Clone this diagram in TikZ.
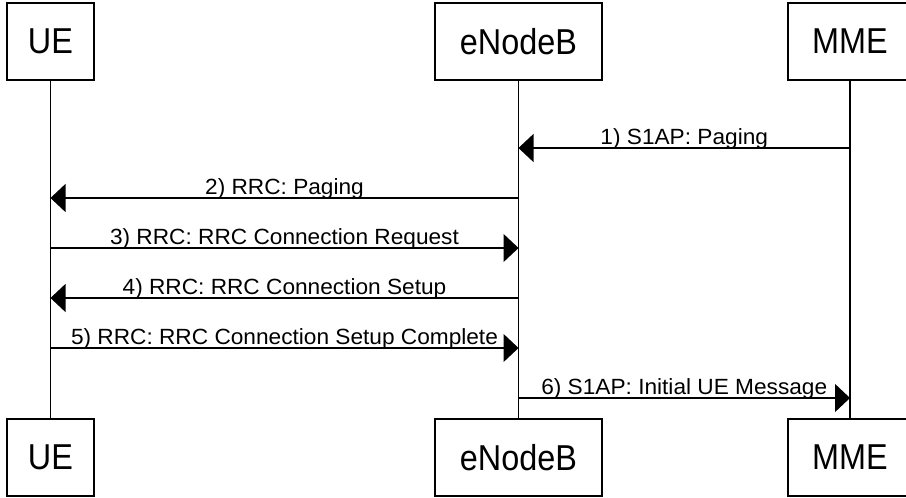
\documentclass[tikz,border=0pt]{standalone}
\usepackage{fontspec}
\setmainfont{Liberation Sans}
\newfontfamily\msgfont[FakeStretch=1.03]{Liberation Sans}
\newfontfamily\entfont[FakeStretch=0.9]{Liberation Sans}
\usetikzlibrary{arrows.meta}

\begin{document}
\begin{tikzpicture}[x=1pt, y=-1pt, line width=1.2pt,
    entity/.style={draw, line width=1.4pt, minimum height=77pt, inner sep=0pt,
      font=\entfont\fontsize{36}{40}\selectfont},
    msg/.style={-{Triangle[length=15pt, width=28pt]}},
    msglabel/.style={anchor=base, inner sep=0pt, yshift=4pt,
      font=\msgfont\fontsize{22}{24}\selectfont}]

      \useasboundingbox (0,0) rectangle (906,498);
      \clip (0,0) rectangle (906,498);

      % entities, top and bottom
      \node [entity, minimum width=87pt] at (50.5,41.5) (ue) {UE};
      \node [entity, minimum width=167pt] at (518.5,41.5) (enb) {eNodeB};
      \node [entity, minimum width=124pt] at (850,41.5) (mme) {MME};

      \node [entity, minimum width=87pt] at (50.5,457.5) (ueB) {UE};
      \node [entity, minimum width=167pt] at (518.5,457.5) (enbB) {eNodeB};
      \node [entity, minimum width=124pt] at (850,457.5) (mmeB) {MME};

      % lifelines
      \draw (ue) -- (ueB);
      \draw (enb) -- (enbB);
      \draw (mme) -- (mmeB);

      % points on the lifelines
      \coordinate (mme1) at (mme |- 0,148);
      \coordinate (enb1) at (enb |- 0,148);
      \coordinate (enb2) at (enb |- 0,198);
      \coordinate (ue2) at (ue |- 0,198);
      \coordinate (ue3) at (ue |- 0,248);
      \coordinate (enb3) at (enb |- 0,248);
      \coordinate (enb4) at (enb |- 0,298);
      \coordinate (ue4) at (ue |- 0,298);
      \coordinate (ue5) at (ue |- 0,348);
      \coordinate (enb5) at (enb |- 0,348);
      \coordinate (enb6) at (enb |- 0,398);
      \coordinate (mme6) at (mme |- 0,398);

      % messages
      \draw [msg] (mme1) -- (enb1) node [msglabel, midway] {1) S1AP: Paging};
      \draw [msg] (enb2) -- (ue2) node [msglabel, midway] {2) RRC: Paging};
      \draw [msg] (ue3) -- (enb3) node [msglabel, midway] {3) RRC: RRC Connection Request};
      \draw [msg] (enb4) -- (ue4) node [msglabel, midway] {4) RRC: RRC Connection Setup};
      \draw [msg] (ue5) -- (enb5) node [msglabel, midway] {5) RRC: RRC Connection Setup Complete};
      \draw [msg] (enb6) -- (mme6) node [msglabel, midway] {6) S1AP: Initial UE Message};
\end{tikzpicture}
\end{document}
